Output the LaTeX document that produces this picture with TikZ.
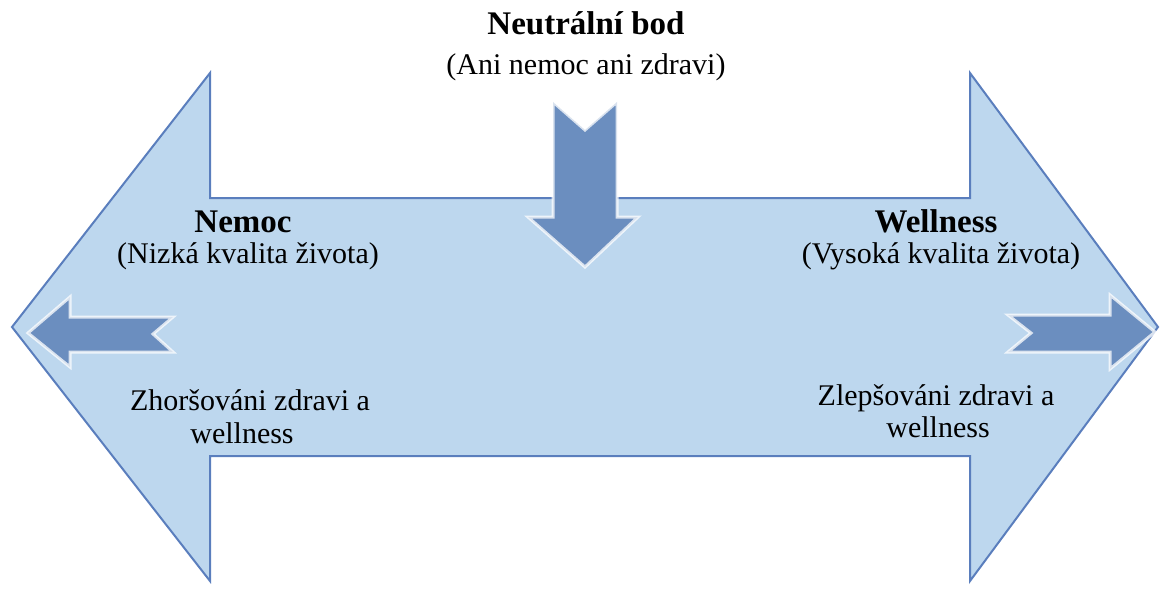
\documentclass[tikz,border=0pt]{standalone}
\usepackage{fontspec}
\setmainfont{Liberation Serif}
\definecolor{bandfill}{HTML}{BDD7EE}
\definecolor{bandline}{HTML}{5A7EBD}
\definecolor{pointfill}{HTML}{6B8EBF}
\tikzset{
  band/.style={fill=bandfill, draw=bandline, line width=1pt, line join=miter},
  pointer/.style={fill=pointfill, draw=white, draw opacity=0.75, line width=1.5pt, line join=miter},
  lbl/.style={anchor=base, inner sep=0pt, font=\fontsize{15}{17}\selectfont},
  headlbl/.style={lbl, font=\fontsize{16.5}{18}\selectfont\bfseries},
}
\begin{document}
\begin{tikzpicture}[x=0.5pt,y=-0.5pt]
  \useasboundingbox (0,0) rectangle (1160,599);
  % double arrow band
  \draw[band] (12,327) -- (210,73) -- (210,198) -- (970,198) -- (970,73)
    -- (1158,327) -- (970,581) -- (970,456) -- (210,456) -- (210,581) -- cycle;
  % pointers
  \draw[pointer] (553,102) -- (585,130) -- (617,102) -- (617,217) -- (638,217)
    -- (585,267) -- (528,217) -- (553,217) -- cycle;
  \draw[pointer] (28,333) -- (70,297) -- (70,317) -- (173,317) -- (153,334)
    -- (173,352) -- (70,352) -- (70,367) -- cycle;
  \draw[pointer] (1155,332) -- (1110,295) -- (1110,315) -- (1008,315) -- (1031,333)
    -- (1008,352) -- (1110,352) -- (1110,369) -- cycle;
  % labels
  \node[headlbl] (neutral) at (586,35) {Neutrální bod};
  \node[lbl] (neutralsub) at (586,75) {(Ani nemoc ani zdravi)};
  \node[headlbl] (nemoc) at (243,232) {Nemoc};
  \node[lbl] (nemocsub) at (248,263) {(Nizká kvalita života)};
  \node[headlbl] (wellness) at (936,232) {Wellness};
  \node[lbl] (wellnesssub) at (941,263) {(Vysoká kvalita života)};
  \node[lbl] (worse) at (250,410) {Zhoršováni zdravi a};
  \node[lbl] (worsetwo) at (242,443) {wellness};
  \node[lbl] (better) at (936,405) {Zlepšováni zdravi a};
  \node[lbl] (bettertwo) at (938,437) {wellness};
\end{tikzpicture}
\end{document}
